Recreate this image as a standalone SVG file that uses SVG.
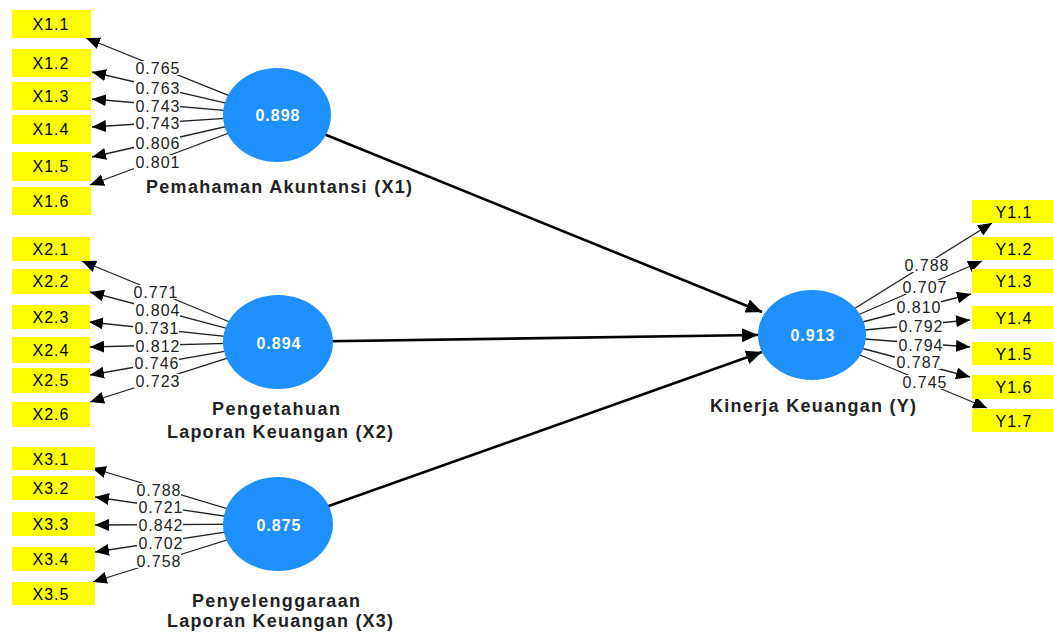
<svg xmlns="http://www.w3.org/2000/svg" width="1053" height="632" viewBox="0 0 1053 632">
<style>
.box{fill:#ffff00}
.bt{font-family:"Liberation Sans",Arial,sans-serif;font-size:16px;letter-spacing:1px;fill:#000;text-anchor:middle}
.lv{fill:#1e90ff}
.lt{font-family:"Liberation Sans",Arial,sans-serif;font-size:16px;font-weight:bold;letter-spacing:1px;fill:#fff;text-anchor:middle}
.nm{font-family:"Liberation Sans",Arial,sans-serif;font-size:18px;font-weight:bold;fill:#222;text-anchor:middle}
.ind{stroke:#222;stroke-width:1.3;fill:none;marker-end:url(#ah)}
.str{stroke:#000;stroke-width:2.6;fill:none;marker-end:url(#ahb)}
.lb{fill:#fff}
.ll{font-family:"Liberation Sans",Arial,sans-serif;font-size:16px;letter-spacing:1px;fill:#222;text-anchor:middle}
</style>
<defs>
<marker id="ah" markerUnits="userSpaceOnUse" markerWidth="14" markerHeight="12" refX="14" refY="6" orient="auto"><path d="M0,0 L14,6 L0,12 z" fill="#000"/></marker>
<marker id="ahb" markerUnits="userSpaceOnUse" markerWidth="16" markerHeight="14" refX="16" refY="7" orient="auto"><path d="M0,0 L16,7 L0,14 z" fill="#000"/></marker>
</defs>
<rect width="1053" height="632" fill="#fff"/>
<g id="connectors">
<line class="str" x1="277" y1="115" x2="762" y2="312"/>
<line class="str" x1="278" y1="342" x2="758" y2="335"/>
<line class="str" x1="278" y1="524" x2="762" y2="352"/>
<line class="ind" x1="277" y1="115" x2="86" y2="38"/>
<line class="ind" x1="277" y1="115" x2="92" y2="72"/>
<line class="ind" x1="277" y1="115" x2="92" y2="99"/>
<line class="ind" x1="277" y1="115" x2="92" y2="127"/>
<line class="ind" x1="277" y1="115" x2="92" y2="157"/>
<line class="ind" x1="277" y1="115" x2="90" y2="185"/>
<line class="ind" x1="278" y1="342" x2="82" y2="261"/>
<line class="ind" x1="278" y1="342" x2="90" y2="292"/>
<line class="ind" x1="278" y1="342" x2="89" y2="322"/>
<line class="ind" x1="278" y1="342" x2="90" y2="347"/>
<line class="ind" x1="278" y1="342" x2="90" y2="375"/>
<line class="ind" x1="278" y1="342" x2="90" y2="402"/>
<line class="ind" x1="278" y1="524" x2="92" y2="468"/>
<line class="ind" x1="278" y1="524" x2="95" y2="497"/>
<line class="ind" x1="278" y1="524" x2="95" y2="525"/>
<line class="ind" x1="278" y1="524" x2="95" y2="552"/>
<line class="ind" x1="278" y1="524" x2="93" y2="582"/>
<line class="ind" x1="812" y1="335" x2="992" y2="223"/>
<line class="ind" x1="812" y1="335" x2="982" y2="261"/>
<line class="ind" x1="812" y1="335" x2="971" y2="294"/>
<line class="ind" x1="812" y1="335" x2="970" y2="320"/>
<line class="ind" x1="812" y1="335" x2="970" y2="347"/>
<line class="ind" x1="812" y1="335" x2="970" y2="377"/>
<line class="ind" x1="812" y1="335" x2="987" y2="408"/>
<g>
<rect class="lb" x="134" y="61" width="46" height="14"/><text class="ll" x="158" y="74">0.765</text>
<rect class="lb" x="134" y="81" width="46" height="14"/><text class="ll" x="158" y="94">0.763</text>
<rect class="lb" x="134" y="99" width="46" height="14"/><text class="ll" x="158" y="112">0.743</text>
<rect class="lb" x="134" y="116" width="46" height="14"/><text class="ll" x="158" y="129">0.743</text>
<rect class="lb" x="134" y="136" width="46" height="14"/><text class="ll" x="158" y="149">0.806</text>
<rect class="lb" x="134" y="155" width="46" height="14"/><text class="ll" x="158" y="168">0.801</text>
</g>
<g>
<rect class="lb" x="132" y="285" width="46" height="14"/><text class="ll" x="156" y="298">0.771</text>
<rect class="lb" x="134" y="303" width="46" height="14"/><text class="ll" x="158" y="316">0.804</text>
<rect class="lb" x="133" y="321" width="46" height="14"/><text class="ll" x="157" y="334">0.731</text>
<rect class="lb" x="134" y="339" width="46" height="14"/><text class="ll" x="158" y="352">0.812</text>
<rect class="lb" x="133" y="356" width="46" height="14"/><text class="ll" x="157" y="369">0.746</text>
<rect class="lb" x="134" y="374" width="46" height="14"/><text class="ll" x="158" y="387">0.723</text>
</g>
<g>
<rect class="lb" x="135" y="483" width="46" height="14"/><text class="ll" x="159" y="496">0.788</text>
<rect class="lb" x="137" y="500" width="46" height="14"/><text class="ll" x="161" y="513">0.721</text>
<rect class="lb" x="137" y="518" width="46" height="14"/><text class="ll" x="161" y="531">0.842</text>
<rect class="lb" x="137" y="536" width="46" height="14"/><text class="ll" x="161" y="549">0.702</text>
<rect class="lb" x="135" y="554" width="46" height="14"/><text class="ll" x="159" y="567">0.758</text>
</g>
<g>
<rect class="lb" x="903" y="258" width="46" height="14"/><text class="ll" x="927" y="271">0.788</text>
<rect class="lb" x="901" y="280" width="46" height="14"/><text class="ll" x="925" y="293">0.707</text>
<rect class="lb" x="895" y="300" width="46" height="14"/><text class="ll" x="919" y="313">0.810</text>
<rect class="lb" x="897" y="319" width="46" height="14"/><text class="ll" x="921" y="332">0.792</text>
<rect class="lb" x="897" y="338" width="46" height="14"/><text class="ll" x="921" y="351">0.794</text>
<rect class="lb" x="895" y="355" width="46" height="14"/><text class="ll" x="919" y="368">0.787</text>
<rect class="lb" x="901" y="375" width="46" height="14"/><text class="ll" x="925" y="388">0.745</text>
</g>
</g>
<g id="X1">
<ellipse class="lv" cx="277" cy="115" rx="54" ry="47"/>
<text class="lt" x="278" y="121">0.898</text>
<text class="nm" x="279" y="193" textLength="266" lengthAdjust="spacing">Pemahaman Akuntansi (X1)</text>
</g>
<g id="X2">
<ellipse class="lv" cx="278" cy="342" rx="55" ry="47"/>
<text class="lt" x="279" y="349">0.894</text>
<text class="nm" x="276" y="415" textLength="128" lengthAdjust="spacing">Pengetahuan</text>
<text class="nm" x="280" y="438" textLength="226" lengthAdjust="spacing">Laporan Keuangan (X2)</text>
</g>
<g id="X3">
<ellipse class="lv" cx="278" cy="524" rx="55" ry="47"/>
<text class="lt" x="279" y="531">0.875</text>
<text class="nm" x="276" y="607" textLength="168" lengthAdjust="spacing">Penyelenggaraan</text>
<text class="nm" x="280" y="627" textLength="226" lengthAdjust="spacing">Laporan Keuangan (X3)</text>
</g>
<g id="Y">
<ellipse class="lv" cx="812" cy="335" rx="54" ry="45"/>
<text class="lt" x="813" y="341">0.913</text>
<text class="nm" x="813" y="412" textLength="206" lengthAdjust="spacing">Kinerja Keuangan (Y)</text>
</g>
<g id="X1.1"><rect class="box" x="12" y="10" width="79" height="28"/><text class="bt" x="51" y="30">X1.1</text></g>
<g id="X1.2"><rect class="box" x="12" y="49" width="79" height="28"/><text class="bt" x="51" y="69">X1.2</text></g>
<g id="X1.3"><rect class="box" x="12" y="82" width="79" height="28"/><text class="bt" x="51" y="102">X1.3</text></g>
<g id="X1.4"><rect class="box" x="12" y="115" width="79" height="29"/><text class="bt" x="51" y="135">X1.4</text></g>
<g id="X1.5"><rect class="box" x="12" y="152" width="79" height="29"/><text class="bt" x="51" y="172">X1.5</text></g>
<g id="X1.6"><rect class="box" x="12" y="187" width="79" height="28"/><text class="bt" x="51" y="207">X1.6</text></g>
<g id="X2.1"><rect class="box" x="12" y="237" width="78" height="24"/><text class="bt" x="51" y="255">X2.1</text></g>
<g id="X2.2"><rect class="box" x="12" y="269" width="78" height="25"/><text class="bt" x="51" y="287">X2.2</text></g>
<g id="X2.3"><rect class="box" x="12" y="305" width="78" height="24"/><text class="bt" x="51" y="323">X2.3</text></g>
<g id="X2.4"><rect class="box" x="12" y="337" width="78" height="26"/><text class="bt" x="51" y="356">X2.4</text></g>
<g id="X2.5"><rect class="box" x="12" y="368" width="78" height="25"/><text class="bt" x="51" y="386">X2.5</text></g>
<g id="X2.6"><rect class="box" x="12" y="402" width="78" height="25"/><text class="bt" x="51" y="420">X2.6</text></g>
<g id="X3.1"><rect class="box" x="12" y="447" width="83" height="23"/><text class="bt" x="51" y="465">X3.1</text></g>
<g id="X3.2"><rect class="box" x="12" y="476" width="83" height="24"/><text class="bt" x="51" y="494">X3.2</text></g>
<g id="X3.3"><rect class="box" x="12" y="512" width="83" height="24"/><text class="bt" x="51" y="530">X3.3</text></g>
<g id="X3.4"><rect class="box" x="12" y="547" width="83" height="24"/><text class="bt" x="51" y="565">X3.4</text></g>
<g id="X3.5"><rect class="box" x="12" y="582" width="83" height="23"/><text class="bt" x="51" y="600">X3.5</text></g>
<g id="Y1.1"><rect class="box" x="972" y="200" width="81" height="23"/><text class="bt" x="1014" y="218">Y1.1</text></g>
<g id="Y1.2"><rect class="box" x="972" y="237" width="81" height="23"/><text class="bt" x="1014" y="255">Y1.2</text></g>
<g id="Y1.3"><rect class="box" x="972" y="269" width="81" height="24"/><text class="bt" x="1014" y="287">Y1.3</text></g>
<g id="Y1.4"><rect class="box" x="972" y="306" width="81" height="23"/><text class="bt" x="1014" y="324">Y1.4</text></g>
<g id="Y1.5"><rect class="box" x="972" y="342" width="81" height="23"/><text class="bt" x="1014" y="360">Y1.5</text></g>
<g id="Y1.6"><rect class="box" x="972" y="375" width="81" height="24"/><text class="bt" x="1014" y="393">Y1.6</text></g>
<g id="Y1.7"><rect class="box" x="972" y="409" width="81" height="23"/><text class="bt" x="1014" y="427">Y1.7</text></g>
</svg>
